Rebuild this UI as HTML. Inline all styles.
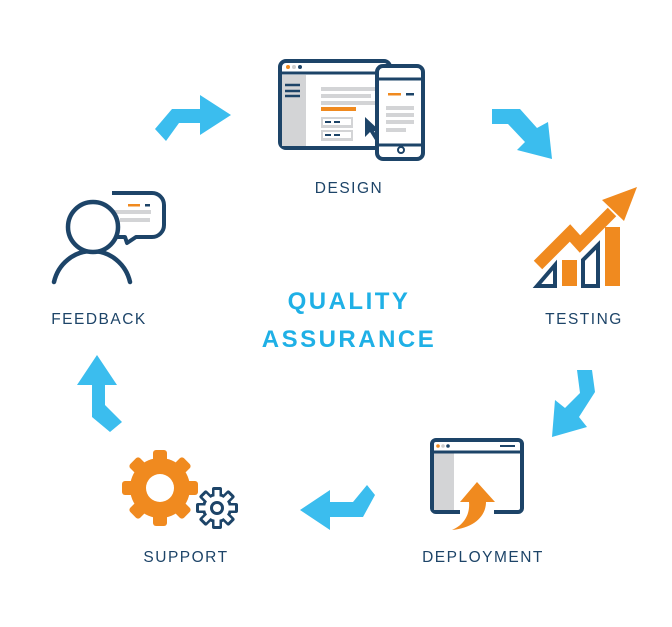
<!DOCTYPE html>
<html><head><meta charset="utf-8"><style>
html,body{margin:0;padding:0;background:#fff;}
svg{display:block;}
text{font-family:"Liberation Sans",sans-serif;}
</style></head><body>
<svg width="672" height="627" viewBox="0 0 672 627" xmlns="http://www.w3.org/2000/svg">
<g fill="#3bbdee">
<polygon points="155,129 172,109 200,109 200,95 231,115 200,135 200,123 179,123 166,141"/>
<polygon points="492,109 520,109 537,128 548,122 552,159 517,150 525,142 508,124 492,124"/>
<polygon points="577,370 592,370 595,392 579,417 587,427 552,437 555,400 565,408 580,393"/>
<polygon points="300,510 330,490 330,502 353,502 367,485 375,495 363,517 330,517 330,530"/>
<polygon points="97,355 117,385 105,385 105,405 122,422 110,432 92,417 92,385 77,385"/>
</g>
<g>
<rect x="280" y="61" width="110" height="87" rx="6" fill="#fff" stroke="#1d4468" stroke-width="4"/>
<rect x="282" y="75" width="24" height="71" fill="#d3d4d6"/>
<line x1="280" y1="73" x2="390" y2="73" stroke="#1d4468" stroke-width="3"/>
<circle cx="288" cy="67" r="2" fill="#f08a1f"/><circle cx="294" cy="67" r="2" fill="#ccc"/><circle cx="300" cy="67" r="2" fill="#1d4468"/>
<g stroke="#1d4468" stroke-width="2.5"><line x1="285" y1="85" x2="300" y2="85"/><line x1="285" y1="91" x2="300" y2="91"/><line x1="285" y1="96" x2="300" y2="96"/></g>
<g fill="#d3d4d6"><rect x="321" y="87" width="55" height="4"/><rect x="321" y="94" width="50" height="4"/><rect x="321" y="101" width="55" height="4"/>
<rect x="321" y="117" width="32" height="11"/><rect x="321" y="130" width="32" height="11"/></g>
<rect x="321" y="107" width="35" height="4" fill="#f08a1f"/>
<rect x="323" y="119" width="28" height="6" fill="#fff"/><rect x="323" y="132" width="28" height="6" fill="#fff"/>
<g stroke="#1d4468" stroke-width="2"><line x1="325" y1="122" x2="331" y2="122"/><line x1="334" y1="122" x2="340" y2="122"/><line x1="325" y1="135" x2="331" y2="135"/><line x1="334" y1="135" x2="340" y2="135"/></g>
<polygon points="365,117 365,137 370,132 375,140 378,138 374,131 380,131" fill="#1d4468"/>
<rect x="377" y="66" width="46" height="93" rx="6" fill="#fff" stroke="#1d4468" stroke-width="4"/>
<line x1="377" y1="79" x2="423" y2="79" stroke="#1d4468" stroke-width="3"/>
<line x1="377" y1="145" x2="423" y2="145" stroke="#1d4468" stroke-width="3"/>
<circle cx="401" cy="150" r="3" fill="none" stroke="#1d4468" stroke-width="2"/>
<rect x="388" y="93" width="13" height="2.5" fill="#f08a1f"/><rect x="406" y="93" width="8" height="2.5" fill="#1d4468"/>
<g fill="#d3d4d6"><rect x="386" y="106" width="28" height="4"/><rect x="386" y="113" width="28" height="4"/><rect x="386" y="120" width="28" height="4"/><rect x="386" y="128" width="20" height="4"/></g>
</g>
<g>
<path d="M112,193 H152 A12,12 0 0 1 164,205 V225 A12,12 0 0 1 152,237 H136 L127,243 L125,237 H112 A8,8 0 0 1 104,229" fill="#fff" stroke="#1d4468" stroke-width="4" stroke-linejoin="round"/>
<rect x="128" y="204" width="12" height="2.5" fill="#f08a1f"/><rect x="145" y="204" width="5" height="2.5" fill="#1d4468"/>
<rect x="113" y="210" width="38" height="4" fill="#d3d4d6"/><rect x="120" y="218" width="30" height="4" fill="#d3d4d6"/>
<path d="M54,282 A39,40 0 0 1 130,282" fill="none" stroke="#1d4468" stroke-width="4.5" stroke-linecap="round"/>
<circle cx="93" cy="227" r="25" fill="#fff" stroke="#1d4468" stroke-width="4.5"/>
</g>
<g>
<rect x="562" y="260" width="15" height="26" fill="#f08a1f"/>
<rect x="605" y="227" width="15" height="59" fill="#f08a1f"/>
<polygon points="537,286 555,265 555,286" fill="none" stroke="#1d4468" stroke-width="4"/>
<polygon points="583,286 583,260 598,245 598,286" fill="none" stroke="#1d4468" stroke-width="4"/>
<polyline points="538,265 570,233 580,244 612,212" fill="none" stroke="#f08a1f" stroke-width="12"/>
<polygon points="637,187 624,221 602,200" fill="#f08a1f"/>
</g>
<g>
<path d="M460,512 H436 A4,4 0 0 1 432,508 V444 A4,4 0 0 1 436,440 H518 A4,4 0 0 1 522,444 V508 A4,4 0 0 1 518,512 H494" fill="#fff" stroke="#1d4468" stroke-width="4"/>
<rect x="434" y="453" width="20" height="57" fill="#d3d4d6"/>
<line x1="432" y1="452" x2="522" y2="452" stroke="#1d4468" stroke-width="3"/>
<circle cx="438" cy="446" r="1.8" fill="#f08a1f"/><circle cx="443" cy="446" r="1.8" fill="#ccc"/><circle cx="448" cy="446" r="1.8" fill="#1d4468"/>
<line x1="500" y1="446" x2="515" y2="446" stroke="#1d4468" stroke-width="2"/>
<path d="M460,502 L477,482 L495,502 L486,502 C486,516 474,528 452,530 C466,524 470,512 469,502 Z" fill="#f08a1f"/>
</g>
<g fill="#f08a1f">
<circle cx="160" cy="488" r="30"/>
<rect x="153" y="450" width="14" height="76" rx="3"/>
<rect x="153" y="450" width="14" height="76" rx="3" transform="rotate(45 160 488)"/>
<rect x="153" y="450" width="14" height="76" rx="3" transform="rotate(90 160 488)"/>
<rect x="153" y="450" width="14" height="76" rx="3" transform="rotate(135 160 488)"/>
<circle cx="160" cy="488" r="14" fill="#fff"/>
</g>
<g>
<g fill="#1d4468">
<circle cx="217" cy="508" r="15"/>
<rect x="212" y="487" width="10" height="42" rx="2"/>
<rect x="212" y="487" width="10" height="42" rx="2" transform="rotate(45 217 508)"/>
<rect x="212" y="487" width="10" height="42" rx="2" transform="rotate(90 217 508)"/>
<rect x="212" y="487" width="10" height="42" rx="2" transform="rotate(135 217 508)"/>
</g>
<g fill="#fff">
<circle cx="217" cy="508" r="12"/>
<rect x="214.5" y="490" width="5" height="36"/>
<rect x="214.5" y="490" width="5" height="36" transform="rotate(45 217 508)"/>
<rect x="214.5" y="490" width="5" height="36" transform="rotate(90 217 508)"/>
<rect x="214.5" y="490" width="5" height="36" transform="rotate(135 217 508)"/>
</g>
<circle cx="217" cy="508" r="7" fill="#1d4468"/><circle cx="217" cy="508" r="4" fill="#fff"/>
</g>
<g fill="#1d4468" font-size="15.5" font-weight="500" letter-spacing="1.5" text-anchor="middle">
<text x="349" y="193">DESIGN</text>
<text x="99" y="324">FEEDBACK</text>
<text x="584" y="324">TESTING</text>
<text x="483" y="562">DEPLOYMENT</text>
<text x="186" y="562">SUPPORT</text>
</g>
<g fill="#1fb0e6" font-size="24" font-weight="bold" letter-spacing="2.5" text-anchor="middle">
<text x="349" y="309">QUALITY</text>
<text x="349" y="347">ASSURANCE</text>
</g>
</svg>
</body></html>
